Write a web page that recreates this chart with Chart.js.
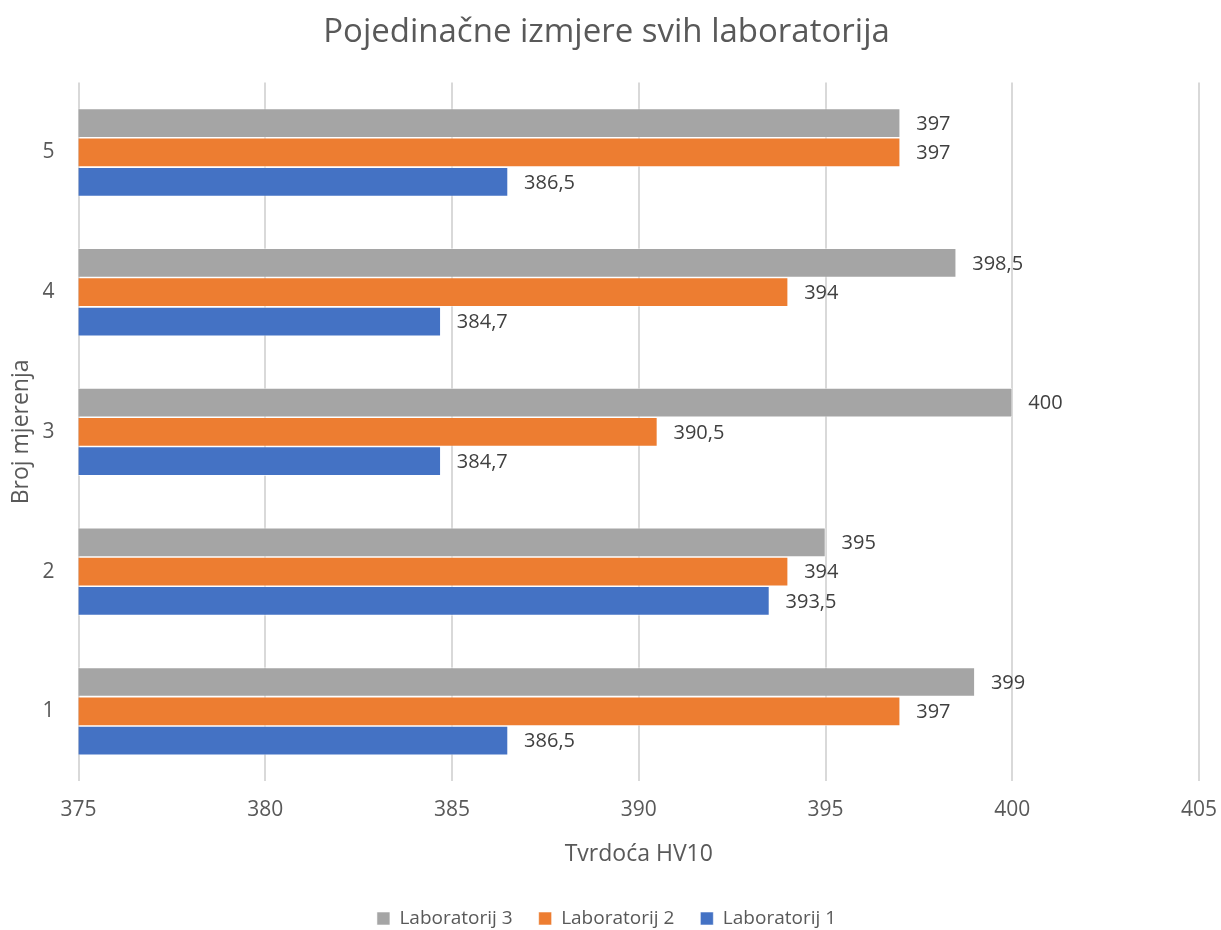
<!DOCTYPE html>
<html>
<head>
<meta charset="utf-8">
<script src="https://cdn.jsdelivr.net/npm/chart.js@4"></script>
<style>
  html, body { margin: 0; padding: 0; background: #fff; }
  #wrap { width: 1221px; height: 930px; }
</style>
</head>
<body>
<div id="wrap"><canvas id="chart"></canvas></div>
<script>
// Podaci grafa
const kategorije = ['1', '2', '3', '4', '5'];
const lab1 = [386.5, 393.5, 384.7, 384.7, 386.5];
const lab2 = [397, 394, 390.5, 394, 397];
const lab3 = [399, 395, 400, 398.5, 397];
const osX = { min: 375, max: 405, korak: 5 };

const FONT = '"Open Sans", "Noto Sans", sans-serif';

// Oznake vrijednosti desno od stupaca
const oznakePlugin = {
    id: 'oznake',
    afterDatasetsDraw(chart) {
        const ctx = chart.ctx;
        ctx.save();
        ctx.font = '20px ' + FONT;
        ctx.fillStyle = '#404040';
        ctx.textAlign = 'left';
        ctx.textBaseline = 'middle';
        chart.data.datasets.forEach((ds, i) => {
            const meta = chart.getDatasetMeta(i);
            meta.data.forEach((el, j) => {
                const txt = String(ds.data[j]).replace('.', ',');
                ctx.fillText(txt, el.x + 16, el.y + 1);
            });
        });
        ctx.restore();
    }
};

const ctx = document.getElementById('chart').getContext('2d');
new Chart(ctx, {
    type: 'bar',
    data: {
        labels: kategorije,
        datasets: [
            { label: 'Laboratorij 3', data: lab3, backgroundColor: '#A5A5A5' },
            { label: 'Laboratorij 2', data: lab2, backgroundColor: '#ED7D31' },
            { label: 'Laboratorij 1', data: lab1, backgroundColor: '#4472C4' }
        ]
    },
    options: {
        indexAxis: 'y',
        responsive: true,
        maintainAspectRatio: false,
        animation: false,
        datasets: {
            bar: {
                categoryPercentage: 0.63,
                barPercentage: 1,
                borderWidth: 0.8,
                borderColor: 'rgba(255,255,255,0.7)',
                borderSkipped: false
            }
        },
        layout: { padding: { left: 0, right: 8, top: 8, bottom: -8 } },
        plugins: {
            title: {
                display: true,
                text: 'Pojedinačne izmjere svih laboratorija',
                color: '#595959',
                font: { family: FONT, size: 33, weight: 'normal' },
                padding: { top: 5, bottom: 30 }
            },
            legend: {
                position: 'bottom',
                labels: {
                    color: '#595959',
                    font: { family: FONT, size: 19 },
                    boxWidth: 13,
                    boxHeight: 13,
                    padding: 26
                }
            },
            tooltip: { enabled: false }
        },
        scales: {
            x: {
                min: osX.min,
                max: osX.max,
                ticks: {
                    stepSize: osX.korak,
                    color: '#595959',
                    font: { family: FONT, size: 21 },
                    padding: 4
                },
                grid: {
                    color: '#D9D9D9',
                    lineWidth: 2,
                    drawTicks: true,
                    tickLength: 12,
                    tickColor: 'rgba(0,0,0,0)'
                },
                border: { display: false },
                title: {
                    display: true,
                    text: 'Tvrdoća HV10',
                    color: '#595959',
                    font: { family: FONT, size: 23 },
                    padding: { top: 14, bottom: 15 }
                }
            },
            y: {
                reverse: true,
                ticks: {
                    color: '#595959',
                    font: { family: FONT, size: 21 },
                    padding: 6
                },
                grid: { display: false, tickLength: 18 },
                border: { display: false },
                title: {
                    display: true,
                    text: 'Broj mjerenja',
                    color: '#595959',
                    font: { family: FONT, size: 23 },
                    padding: { top: 8, bottom: 1 }
                }
            }
        }
    },
    plugins: [oznakePlugin]
});
</script>
</body>
</html>
